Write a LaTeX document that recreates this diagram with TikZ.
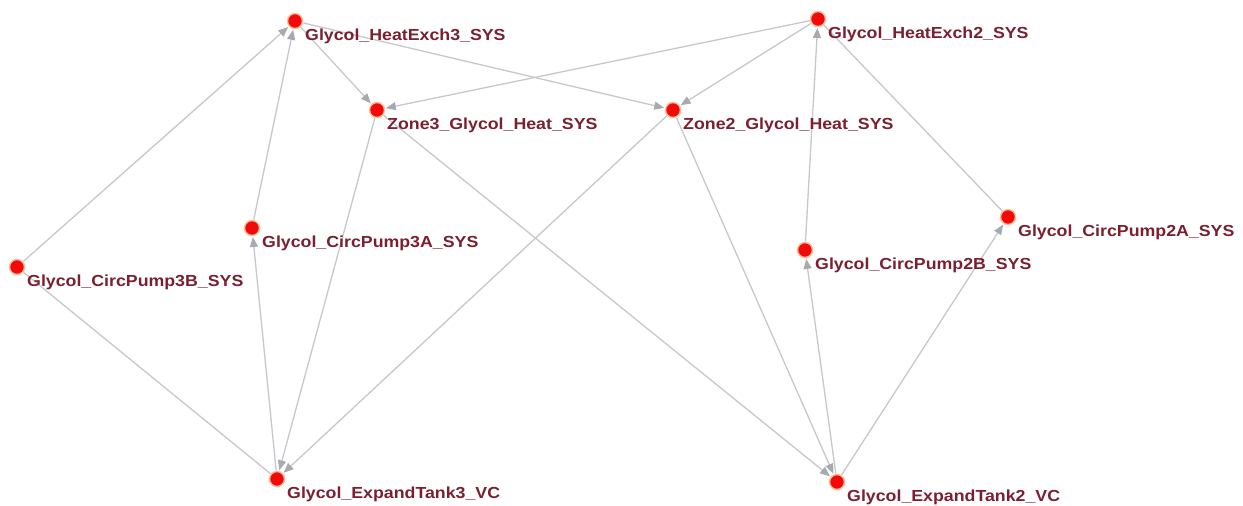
\documentclass[tikz,border=0pt]{standalone}
\usepackage{fontspec}
\newfontfamily\lblfont[FakeStretch=1.11]{Liberation Sans}
\usetikzlibrary{arrows.meta,backgrounds}
\definecolor{dotred}{RGB}{240,10,10}
\definecolor{halo}{RGB}{255,190,150}
\definecolor{lbltext}{RGB}{122,32,48}
\definecolor{edgegray}{RGB}{200,200,204}
\definecolor{tipgray}{RGB}{168,170,176}
\tikzset{
  dot/.style={circle, fill=dotred, draw=halo, line width=1.4pt, minimum size=15pt, inner sep=0pt, outer sep=1pt},
  lbl/.style={anchor=base west, inner sep=0pt, text=lbltext, font=\lblfont\bfseries\fontsize{16}{18}\selectfont},
  link/.style={draw=edgegray, line width=1.3pt},
  arc/.style={link, -{Triangle[length=10pt,width=8pt,fill=tipgray,color=tipgray]}, shorten >=0.5pt}
}
\begin{document}
\begin{tikzpicture}[x=1pt,y=-1pt]
\useasboundingbox (0,0) rectangle (1243,506);

% system nodes
\node[dot] (he3) at (295,21) {};
\node[dot] (z3)  at (377,110) {};
\node[dot] (he2) at (818,19) {};
\node[dot] (z2)  at (673,110) {};
\node[dot] (p3a) at (252,228) {};
\node[dot] (p3b) at (17,267) {};
\node[dot] (et3) at (277,479) {};
\node[dot] (et2) at (837,482) {};
\node[dot] (p2b) at (805,250) {};
\node[dot] (p2a) at (1008,217) {};

% labels
\node[lbl] (he3t) at ([shift={(10,19)}]he3.center) {Glycol\_HeatExch3\_SYS};
\node[lbl] (z3t)  at ([shift={(10,19)}]z3.center)  {Zone3\_Glycol\_Heat\_SYS};
\node[lbl] (he2t) at ([shift={(10,19)}]he2.center) {Glycol\_HeatExch2\_SYS};
\node[lbl] (z2t)  at ([shift={(10,19)}]z2.center)  {Zone2\_Glycol\_Heat\_SYS};
\node[lbl] (p3at) at ([shift={(10,19)}]p3a.center) {Glycol\_CircPump3A\_SYS};
\node[lbl] (p3bt) at ([shift={(10,19)}]p3b.center) {Glycol\_CircPump3B\_SYS};
\node[lbl] (et3t) at ([shift={(10,19)}]et3.center) {Glycol\_ExpandTank3\_VC};
\node[lbl] (et2t) at ([shift={(10,19)}]et2.center) {Glycol\_ExpandTank2\_VC};
\node[lbl] (p2bt) at ([shift={(10,19)}]p2b.center) {Glycol\_CircPump2B\_SYS};
\node[lbl] (p2at) at ([shift={(10,19)}]p2a.center) {Glycol\_CircPump2A\_SYS};

% connections, kept behind the nodes
\begin{scope}[on background layer]
\fill[white] (0,0) rectangle (1243,506);
\draw[arc] (p3b) -- (he3);
\draw[arc] (p3a) -- (he3);
\draw[arc] (he3) -- (z3);
\draw[arc] (he3) -- (z2);
\draw[arc] (he2) -- (z3);
\draw[arc] (he2) -- (z2);
\draw[arc] (p2b) -- (he2);
\draw[link] (he2) -- (p2a);
\draw[arc] (z3) -- (et3);
\draw[arc] (z3) -- (et2);
\draw[arc] (z2) -- (et3);
\draw[arc] (z2) -- (et2);
\draw[arc] (et3) -- (p3a);
\draw[link] (p3b) -- (et3);
\draw[arc] (et2) -- (p2b);
\draw[arc] (et2) -- (p2a);
\end{scope}
\end{tikzpicture}
\end{document}
